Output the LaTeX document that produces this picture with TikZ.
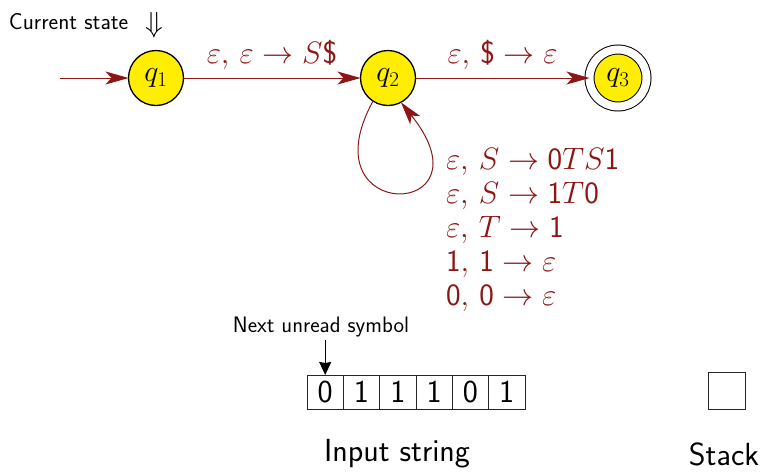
\RequirePackage{fix-cm}
\documentclass[tikz,border=0pt]{standalone}
\usepackage{amsmath}
\usetikzlibrary{arrows.meta}
\definecolor{edgered}{RGB}{140,22,22}
\definecolor{stateyellow}{RGB}{255,238,0}
\begin{document}
\begin{tikzpicture}[x=1pt,y=-1pt,
  every node/.style={inner sep=0pt, outer sep=0pt},
  state/.style={circle, draw=black, line width=1.3pt, fill=stateyellow,
    minimum size=55pt, font=\fontsize{30}{32}\selectfont},
  accepting/.style={state, minimum size=57pt, line width=1pt,
    double=white, double distance=8pt},
  trans/.style={draw=edgered, line width=1pt,
    -{Stealth[length=23pt,width=13pt,inset=6pt]}},
  tlabel/.style={text=edgered, font=\fontsize{31}{34}\selectfont},
  cell/.style={draw=black!85, line width=0.6pt, minimum width=36.3pt,
    minimum height=34pt, font=\fontsize{32}{34}\sffamily\selectfont},
  caption/.style={font=\fontsize{32}{36}\sffamily\selectfont},
  note/.style={font=\fontsize{23}{26}\sffamily\selectfont}]
\useasboundingbox (0,0) rectangle (762,472);

% states
\node[state] (q1) at (156,78) {$q_1$};
\node[state] (q2) at (388,78) {$q_2$};
\node[accepting] (q3) at (618,78) {$q_3$};
\coordinate (start) at (60,78);

% transitions
\draw[trans] (start) -- (q1);
\draw[trans] (q1) -- node[tlabel, above=8pt] {$\varepsilon,\, \varepsilon \to S\textsf{\$}$} (q2);
\draw[trans] (q2) -- node[tlabel, above=8pt] {$\varepsilon,\, \textsf{\$} \to \varepsilon$} (q3);
\draw[trans] (q2.237) .. controls (305,225) and (495,220) .. (q2.298);

% loop rules
\node[tlabel, anchor=north west, align=left] (rules) at (446,148) {%
  $\varepsilon,\, S \to \mathsf{0}TS\mathsf{1}$\\
  $\varepsilon,\, S \to \mathsf{1}T\mathsf{0}$\\
  $\varepsilon,\, T \to \mathsf{1}$\\
  $\mathsf{1},\, \mathsf{1} \to \varepsilon$\\
  $\mathsf{0},\, \mathsf{0} \to \varepsilon$};

% current state marker
\node[note, anchor=west] (cur) at (9,22) {Current state};
\node[font=\fontsize{29}{32}\selectfont] (down) at (154,25) {$\Downarrow$};

% input tape
\node[cell] (c1) at (325.2,392) {0};
\node[cell, anchor=west] (c2) at (c1.east) {1};
\node[cell, anchor=west] (c3) at (c2.east) {1};
\node[cell, anchor=west] (c4) at (c3.east) {1};
\node[cell, anchor=west] (c5) at (c4.east) {0};
\node[cell, anchor=west] (c6) at (c5.east) {1};

\node[note, font=\fontsize{22.4}{26}\sffamily\selectfont] (next) at (321,327) {Next unread symbol};
\draw[line width=1.3pt, -{Stealth[length=13pt,width=12pt,inset=1pt]}] (next.south -| c1.north) ++(0,3) coordinate (ptr) (ptr) -- (c1.north);

% stack
\node[draw=black!85, line width=0.6pt, minimum size=37pt] (stack) at (726.5,390.5) {};

% captions
\node[caption] (inlabel) at (397,454) {Input string};
\node[caption] (stlabel) at (724,454) {Stack};
\end{tikzpicture}
\end{document}
